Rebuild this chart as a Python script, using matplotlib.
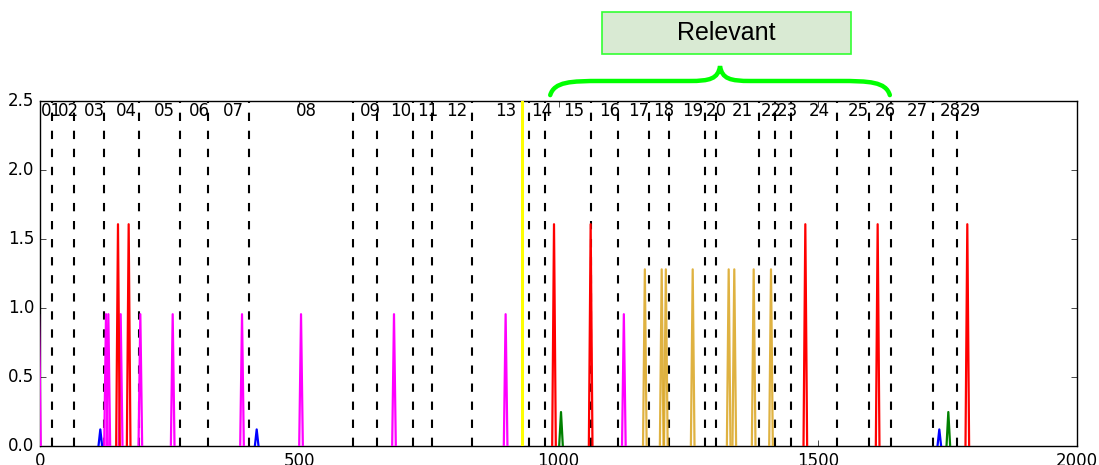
import matplotlib
matplotlib.use("Agg")
import matplotlib.pyplot as plt
from matplotlib.patches import Rectangle, PathPatch
from matplotlib.path import Path
import matplotlib.transforms as mtransforms

# segment boundaries (x positions of the dashed lines) and names
bounds = [23.7, 66.2, 122.9, 190.9, 270.6, 324.6, 403.1, 604.2, 649.4, 720.0,
          756.6, 832.6, 943.0, 973.5, 1063.5, 1115.1, 1173.8, 1213.7, 1282.5,
          1304.5, 1385.9, 1416.8, 1447.8, 1537.3, 1599.4, 1642.0, 1721.3, 1768.8]
seg_start = 0
seg_end = 1798
seg_names = ["%02d" % i for i in range(1, 30)]

# peak positions / heights per colour
magenta_x = [-2, 127.3, 131.8, 155.6, 193.5, 255.9, 389.6, 503.4, 682.7, 898.0, 1126.0]
magenta_h = 0.955
red_x = [150.4, 171.0, 991.3, 1062.0, 1476.0, 1615.5, 1788.4]
red_h = 1.607
orange_x = [1166.5, 1199.0, 1207.0, 1258.8, 1328.2, 1339.0, 1376.4, 1409.8]
orange_h = 1.28
green_x = [1004.8, 1751.8]
green_h = 0.246
blue_x = [116.3, 417.9, 1734.4]
blue_h = 0.12
marker_x = 930.0

relevant_span = (984, 1639)

plt.style.use("classic")
plt.rcParams["font.family"] = ["DejaVu Sans"]

fig = plt.figure(figsize=(10.99, 4.65), dpi=100, facecolor="white")
ax = fig.add_axes([0.0364, 0.0409, 0.9436, 0.7419])

half_w = 3.5


def draw_peaks(xs, h, color, alpha=1.0):
    for c in xs:
        ax.plot([c - half_w, c, c + half_w], [0, h, 0], color=color, lw=1.6,
                alpha=alpha, zorder=3)


draw_peaks(magenta_x, magenta_h, "#ff00ff")
draw_peaks(red_x, red_h, "#ff0000")
draw_peaks(orange_x, orange_h, "#daa520", alpha=0.85)
draw_peaks(green_x, green_h, "#008000")
draw_peaks(blue_x, blue_h, "#0000ff")
ax.axvline(marker_x, color="#ffff00", lw=2.2, zorder=3)

for b in bounds:
    ax.axvline(b, color="black", lw=1.5, dashes=(6, 7), zorder=2)

edges = [seg_start] + bounds + [seg_end]
for i, name in enumerate(seg_names):
    mid = (edges[i] + edges[i + 1]) / 2.0 + 10
    ax.text(mid, 2.43, name, ha="center", va="center", fontsize=12, zorder=4)

ax.set_xlim(0, 2000)
ax.set_ylim(0, 2.5)
ax.set_xticks([0, 500, 1000, 1500, 2000])
ax.set_yticks([0.0, 0.5, 1.0, 1.5, 2.0, 2.5])
ax.tick_params(labelsize=12)

# curly brace above the relevant segments
trans = mtransforms.blended_transform_factory(ax.transData, ax.transAxes)
x0, x1 = relevant_span
w = x1 - x0
xm = (x0 + x1) / 2.0
y0, y1, y2 = 1.017, 1.058, 1.101
verts = [
    (x0, y0),
    (x0 + 0.012 * w, y1 - 0.002), (x0 + 0.06 * w, y1), (x0 + 0.15 * w, y1),
    (xm - 0.09 * w, y1),
    (xm - 0.03 * w, y1), (xm - 0.006 * w, y1 + 0.006), (xm, y2),
    (xm + 0.006 * w, y1 + 0.006), (xm + 0.03 * w, y1), (xm + 0.09 * w, y1),
    (x1 - 0.15 * w, y1),
    (x1 - 0.06 * w, y1), (x1 - 0.012 * w, y1 - 0.002), (x1, y0),
]
codes = [Path.MOVETO,
         Path.CURVE4, Path.CURVE4, Path.CURVE4,
         Path.LINETO,
         Path.CURVE4, Path.CURVE4, Path.CURVE4,
         Path.CURVE4, Path.CURVE4, Path.CURVE4,
         Path.LINETO,
         Path.CURVE4, Path.CURVE4, Path.CURVE4]
brace = PathPatch(Path(verts, codes), transform=trans, fill=False,
                  edgecolor="#00ff00", lw=3.2, clip_on=False, capstyle="round")
ax.add_patch(brace)

box = Rectangle((0.5478, 0.8839), 0.2266, 0.0903, transform=fig.transFigure,
                facecolor="#d9ead3", edgecolor="#33ff33", lw=1.2)
fig.add_artist(box)
fig.text(0.5478 + 0.2266 / 2, 0.8839 + 0.0903 / 2, "Relevant", ha="center",
         va="center", fontsize=18, family=["Liberation Sans", "DejaVu Sans"])

fig.savefig("out.png", dpi=100, facecolor="white")
